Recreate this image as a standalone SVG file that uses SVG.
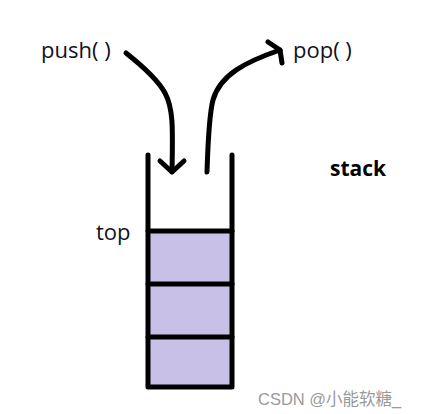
<svg xmlns="http://www.w3.org/2000/svg" width="429" height="414" viewBox="0 0 429 414">
<style>
.t{font-family:"Open Sans","Noto Sans","Liberation Sans",sans-serif;font-size:22px;fill:#111122}
.b{font-weight:bold;fill:#000;font-size:21px}
.w{stroke:#000;stroke-width:5;fill:none;stroke-linecap:round;stroke-linejoin:round}
.a{stroke:#000;stroke-width:5;fill:none;stroke-linecap:round;stroke-linejoin:round}
.wm{font-family:"Liberation Sans","Noto Sans CJK SC",sans-serif;font-size:16.5px;fill:#9a9a9a}
</style>
<rect width="429" height="414" fill="#fff"/>
<g id="stack">
<rect x="148" y="231" width="84" height="156" fill="#c8c0e6"/>
<path class="w" d="M148 155 V387 H232 V155"/>
<line class="w" x1="148" y1="231" x2="232" y2="231"/>
<line class="w" x1="148" y1="284" x2="232" y2="284"/>
<line class="w" x1="148" y1="337" x2="232" y2="337"/>
</g>
<g id="labels">
<text class="t" x="96" y="240">top</text>
<text class="t" x="41" y="58">push( )</text>
<text class="t" x="293" y="58">pop( )</text>
<text class="t b" x="330" y="176">stack</text>
</g>
<g id="connectors">
<path class="a" d="M126 53 C145 68 158 80 165 93 C173 108 173 125 172 172"/>
<path class="a" d="M160 161 L172 172 L184 161"/>
<path class="a" d="M207 172 C208 140 209 115 213 100 C220 75 245 62 280 50"/>
<path class="a" d="M268 42 L280 50 L282 63"/>
</g>
<text class="wm" x="258" y="405">CSDN @小能软糖_</text>
</svg>
